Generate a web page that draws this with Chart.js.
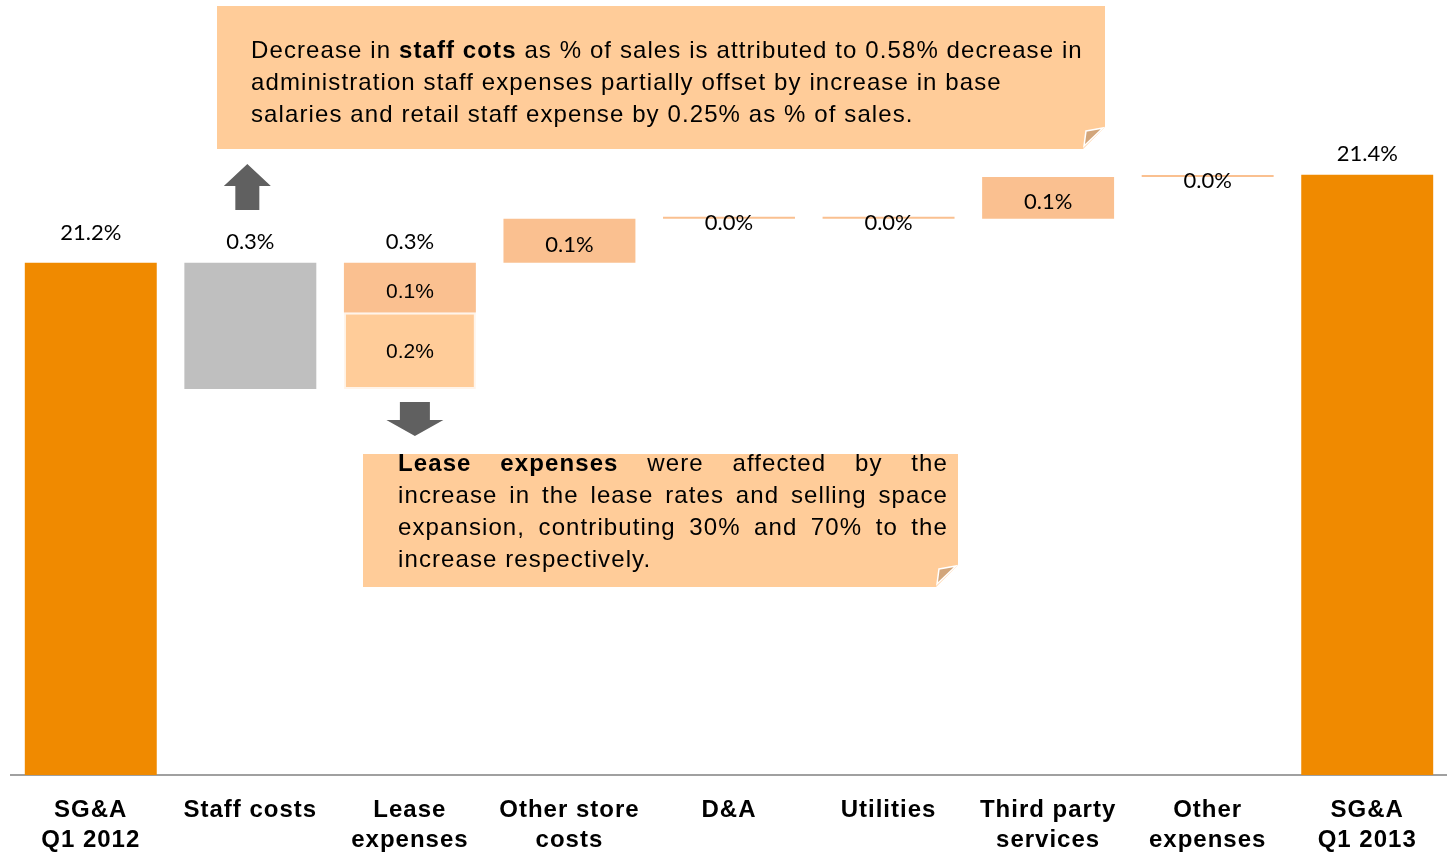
<!DOCTYPE html>
<html>
<head>
<meta charset="utf-8">
<script src="https://cdn.jsdelivr.net/npm/chart.js@4.4.1/dist/chart.umd.min.js"></script>
<style>
    html, body { margin: 0; padding: 0; background: #ffffff; }
    #wrap { width: 1447px; height: 855px; }
</style>
</head>
<body>
<div id="wrap"><canvas id="chartSGA" width="1447" height="855"></canvas></div>
<script>
// Categories on the x axis
const categories = [
    ['SG&A', 'Q1 2012'], 'Staff costs', ['Lease', 'expenses'], ['Other store', 'costs'],
    'D&A', 'Utilities', ['Third party', 'services'], ['Other', 'expenses'], ['SG&A', 'Q1 2013']
];

// SG&A as % of sales
const openingTotal = 21.2;
const closingTotal = 21.4;

// Change per cost line (Staff costs .. Other expenses), % of sales
const stepChanges = [-0.287, 0.287, 0.100, 0.0, 0.0, 0.095, 0.0];

// Lease expenses split: selling space expansion (bottom), lease rates (top)
const leaseSplit = [0.174, 0.113];

const fmt = v => Math.abs(v).toFixed(1) + '%';
const empty = () => categories.map(() => null);

// Build waterfall datasets from the values above
const totalsData = empty();
const decreaseData = empty();
const increaseData = empty();
const leaseBaseData = empty();
const flatData = empty();
const valueLabels = [];

totalsData[0] = openingTotal;
totalsData[categories.length - 1] = closingTotal;
valueLabels.push({ ds: 0, i: 0, text: fmt(openingTotal), place: 'above', gap: 30 });
valueLabels.push({ ds: 0, i: categories.length - 1, text: fmt(closingTotal), place: 'above', gap: 21 });

let running = openingTotal;
stepChanges.forEach((change, k) => {
    const i = k + 1;
    const from = running;
    const to = running + change;
    if (i === 2) {
        // lease expenses stacked in two parts
        const mid = from + leaseSplit[0];
        leaseBaseData[i] = [from, mid];
        increaseData[i] = [mid, to];
        valueLabels.push({ ds: 2, i: i, text: fmt(change), place: 'above', gap: 21 });
        valueLabels.push({ ds: 2, i: i, text: fmt(leaseSplit[1]), place: 'inside', small: true, shift: 5 });
        valueLabels.push({ ds: 3, i: i, text: fmt(leaseSplit[0]), place: 'inside', small: true, shift: 1 });
    } else if (change < 0) {
        decreaseData[i] = [to, from];
        valueLabels.push({ ds: 1, i: i, text: fmt(change), place: 'above', gap: 21 });
    } else if (change > 0) {
        increaseData[i] = [from, to];
        valueLabels.push({ ds: 2, i: i, text: fmt(change), place: 'inside', shift: 4 });
    } else {
        flatData[i] = [from, to];
        valueLabels.push({ ds: 4, i: i, text: fmt(change), place: 'below' });
    }
    running = to;
});

// Value labels drawn on top of the bars
const valueLabelPlugin = {
    id: 'valueLabels',
    beforeDraw(chart) {
        chart.ctx.letterSpacing = '1px';   // slightly spaced tick labels like the original
    },
    beforeDatasetsDraw(chart) {
        chart.ctx.letterSpacing = '0px';
    },
    afterDatasetsDraw(chart) {
        const ctx = chart.ctx;
        ctx.save();
        ctx.textAlign = 'center';
        ctx.textBaseline = 'middle';
        ctx.fillStyle = '#000000';
        valueLabels.forEach(lbl => {
            const el = chart.getDatasetMeta(lbl.ds).data[lbl.i];
            if (!el) return;
            const top = Math.min(el.y, el.base);
            const bottom = Math.max(el.y, el.base);
            let y;
            if (lbl.place === 'above') y = top - lbl.gap;
            else if (lbl.place === 'inside') y = (top + bottom) / 2 + lbl.shift;
            else y = (top + bottom) / 2 + 5;
            ctx.font = lbl.small ? '21px "Liberation Sans", Arial, sans-serif' : '22px Lato, sans-serif';
            ctx.fillText(lbl.text, el.x, y);
        });
        ctx.restore();
    }
};

// Callout boxes and arrows
function drawCallout(ctx, box) {
    const { l, t, r, b } = box;
    const c = 22;
    ctx.fillStyle = '#FFCC99';
    ctx.beginPath();
    ctx.moveTo(l, t);
    ctx.lineTo(r, t);
    ctx.lineTo(r, b - c);
    ctx.lineTo(r - c, b);
    ctx.lineTo(l, b);
    ctx.closePath();
    ctx.fill();
    // folded corner
    ctx.beginPath();
    ctx.moveTo(r - 19, b - 18);
    ctx.lineTo(r - 2, b - 21);
    ctx.lineTo(r - 21, b - 3);
    ctx.closePath();
    ctx.fillStyle = '#D2A57A';
    ctx.fill();
    ctx.strokeStyle = '#ffffff';
    ctx.lineWidth = 1.5;
    ctx.stroke();

    ctx.fillStyle = '#000000';
    ctx.textBaseline = 'alphabetic';
    ctx.textAlign = 'left';
    ctx.letterSpacing = box.spacing + 'px';
    const font = bold => (bold ? 'bold ' : '') + box.size + 'px "Liberation Sans", Arial, sans-serif';
    box.lines.forEach((line, n) => {
        const y = box.baseline + n * box.lineGap;
        if (box.justify && n < box.lines.length - 1) {
            // justified: spread words across the width
            const words = [];
            line.forEach(([txt, bold]) => txt.trim().split(/\s+/).forEach(w => words.push([w, bold])));
            let wordsW = 0;
            words.forEach(([w, bold]) => { ctx.font = font(bold); wordsW += ctx.measureText(w).width; });
            const gap = (box.textRight - box.textLeft - wordsW) / (words.length - 1);
            let x = box.textLeft;
            words.forEach(([w, bold]) => {
                ctx.font = font(bold);
                ctx.fillText(w, x, y);
                x += ctx.measureText(w).width + gap;
            });
        } else {
            let x = box.textLeft;
            line.forEach(([txt, bold]) => {
                ctx.font = font(bold);
                ctx.fillText(txt, x, y);
                x += ctx.measureText(txt).width;
            });
        }
    });
    ctx.letterSpacing = '0px';
}

function drawArrow(ctx, cx, yTail, yHeadBase, yTip, shaftHalf, headHalf) {
    ctx.fillStyle = '#606060';
    ctx.beginPath();
    ctx.moveTo(cx - shaftHalf, yTail);
    ctx.lineTo(cx - shaftHalf, yHeadBase);
    ctx.lineTo(cx - headHalf, yHeadBase);
    ctx.lineTo(cx, yTip);
    ctx.lineTo(cx + headHalf, yHeadBase);
    ctx.lineTo(cx + shaftHalf, yHeadBase);
    ctx.lineTo(cx + shaftHalf, yTail);
    ctx.closePath();
    ctx.fill();
}

const calloutPlugin = {
    id: 'callouts',
    afterDraw(chart) {
        const ctx = chart.ctx;
        ctx.save();
        const staffX = chart.getDatasetMeta(1).data[1].x;
        const leaseX = chart.getDatasetMeta(3).data[2].x;

        drawArrow(ctx, staffX - 3, 210, 186, 164, 12, 23.5);
        drawArrow(ctx, leaseX + 5, 402, 420, 436, 15, 28.5);

        drawCallout(ctx, {
            l: 217, t: 6, r: 1105, b: 149,
            textLeft: 251, textRight: 1082, baseline: 58, lineGap: 32, size: 24, spacing: 1.1,
            lines: [
                [['Decrease in ', false], ['staff cots', true], [' as % of sales is attributed to 0.58% decrease in', false]],
                [['administration staff expenses partially offset by increase in base', false]],
                [['salaries and retail staff expense by 0.25% as % of sales.', false]]
            ]
        });
        drawCallout(ctx, {
            l: 363, t: 454, r: 958, b: 587,
            textLeft: 398, textRight: 948, baseline: 471, lineGap: 32, size: 24, spacing: 1.1, justify: true,
            lines: [
                [['Lease expenses', true], [' were affected by the', false]],
                [['increase in the lease rates and selling space', false]],
                [['expansion, contributing 30% and 70% to the', false]],
                [['increase respectively.', false]]
            ]
        });
        ctx.restore();
    }
};

const ctxSGA = document.getElementById('chartSGA').getContext('2d');
const barOpts = { grouped: false, barPercentage: 0.827, categoryPercentage: 1.0, borderWidth: 0 };

const chartSGA = new Chart(ctxSGA, {
    type: 'bar',
    data: {
        labels: categories,
        datasets: [
            { label: 'Total', data: totalsData, backgroundColor: '#F08A00', ...barOpts },
            { label: 'Decrease', data: decreaseData, backgroundColor: '#BFBFBF', ...barOpts },
            { label: 'Increase', data: increaseData, backgroundColor: '#FAC090', ...barOpts },
            { label: 'Lease base', data: leaseBaseData, backgroundColor: '#FFCC99', ...barOpts,
              borderWidth: 2, borderColor: '#FFF4EA', borderSkipped: false },
            { label: 'No change', data: flatData, backgroundColor: '#FAC090', ...barOpts, minBarLength: 2 }
        ]
    },
    options: {
        responsive: false,
        animation: false,
        devicePixelRatio: 1,
        layout: { padding: { left: 11, right: 0, top: 0, bottom: 0 } },
        plugins: {
            legend: { display: false },
            tooltip: { enabled: false },
            title: { display: false }
        },
        scales: {
            x: {
                grid: { display: false, drawTicks: false },
                border: { display: true, color: '#A0A0A0', width: 2 },
                ticks: {
                    color: '#000000',
                    padding: 20,
                    maxRotation: 0,
                    autoSkip: false,
                    font: { family: '"Liberation Sans", Arial, sans-serif', size: 24, weight: 'bold', lineHeight: 1.25 }
                },
                afterFit(scale) { scale.height = 80; }
            },
            y: {
                display: false,
                min: 20.036,
                max: 21.797
            }
        }
    },
    plugins: [valueLabelPlugin, calloutPlugin]
});
</script>
</body>
</html>
